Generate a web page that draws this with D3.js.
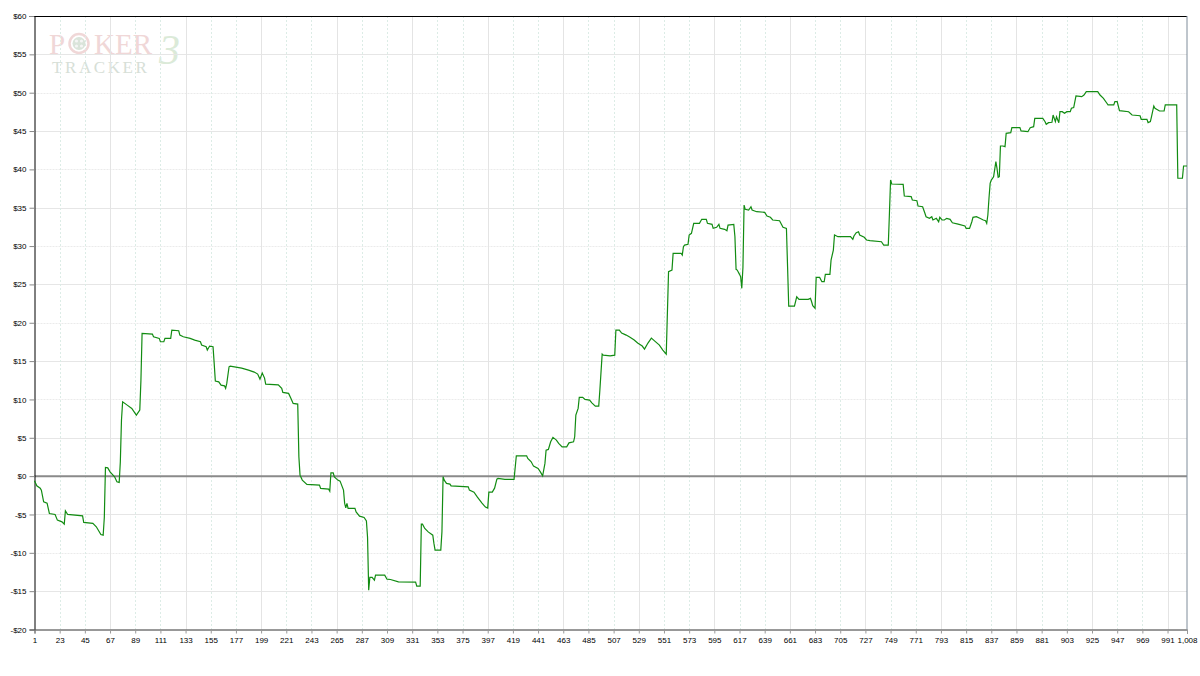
<!DOCTYPE html>
<html><head><meta charset="utf-8">
<script src="https://cdn.jsdelivr.net/npm/d3@7"></script>
<style>body{margin:0;background:#fff}svg{display:block}</style>
</head><body><svg id="c" width="1200" height="676"></svg>
<script>
const hands=[1,3,6,7,9,12,14,19,21,25,27,28,30,43,44,52,55,59,61,62,63,65,67,71,73,75,76,77,78,82,86,90,93,94,95,104,105,110,111,114,115,120,121,127,128,131,137,141,146,147,151,152,154,157,158,159,162,164,167,168,169,171,172,177,182,188,193,196,198,200,202,203,214,217,218,223,225,227,231,232,233,235,239,250,251,258,259,260,262,263,266,268,271,272,273,274,275,281,282,285,289,291,292,293,294,296,298,299,307,309,312,319,334,335,338,339,340,342,345,349,350,351,356,357,358,359,361,364,365,380,381,385,388,392,395,397,398,401,403,405,406,412,420,422,431,432,435,437,441,443,445,447,448,450,452,454,457,459,462,466,468,472,473,474,476,477,480,482,486,488,491,494,495,497,498,504,508,509,512,514,518,521,525,528,532,534,537,540,543,547,550,553,555,558,559,566,567,568,569,572,573,575,577,582,584,588,589,593,594,597,599,600,604,606,607,612,613,614,615,617,618,619,620,621,622,625,627,628,632,639,641,644,646,652,655,658,659,660,665,667,669,677,679,680,681,683,684,687,689,691,692,696,697,699,700,703,714,716,717,719,721,722,726,728,731,741,743,747,748,749,750,760,761,767,768,772,773,777,779,780,783,785,786,789,791,792,794,796,798,801,803,808,814,815,818,820,821,824,827,830,832,833,834,835,836,837,839,841,842,843,844,845,847,849,850,854,855,862,863,869,871,874,875,882,884,885,887,890,891,893,894,896,897,899,901,903,906,907,909,911,916,918,920,930,932,935,938,939,944,945,947,949,957,960,967,968,973,974,976,977,979,980,984,988,989,999,1000,1004,1005,1008];
const values=[-0.61,-1.27,-1.57,-1.83,-3.35,-3.52,-4.87,-5.00,-5.74,-5.96,-6.26,-4.53,-5.00,-5.18,-6.04,-6.17,-6.61,-7.61,-7.70,-5.39,1.13,1.08,0.56,-0.09,-0.74,-0.82,1.87,7.31,9.69,9.26,8.83,7.96,8.61,12.52,18.62,18.52,18.17,17.96,17.52,17.52,17.96,17.96,19.05,18.96,18.39,18.17,17.96,17.74,17.52,17.09,16.87,16.44,16.96,16.87,14.70,12.39,12.30,11.87,11.78,11.44,12.09,14.26,14.35,14.22,14.09,13.83,13.57,13.31,12.65,13.44,12.78,12.00,11.91,11.44,10.92,10.79,10.14,9.48,9.39,2.52,0.13,-0.52,-1.08,-1.17,-1.60,-1.70,-1.96,0.43,0.43,-0.09,-0.52,-0.65,-1.83,-3.56,-4.14,-3.56,-4.21,-4.21,-4.66,-5.22,-5.39,-5.83,-7.96,-14.87,-13.21,-13.21,-13.57,-12.91,-12.91,-13.44,-13.48,-13.79,-13.83,-14.35,-14.35,-6.26,-6.26,-6.82,-7.27,-7.70,-8.78,-9.65,-9.65,-7.27,-0.09,-0.52,-0.95,-1.04,-1.27,-1.40,-1.83,-2.09,-2.74,-3.52,-4.04,-4.17,-2.09,-2.09,-1.57,-0.39,-0.30,-0.43,-0.43,2.65,2.65,2.31,1.87,1.30,1.00,0.56,0.04,1.66,3.39,3.48,4.47,5.05,4.70,4.27,3.82,3.82,4.34,4.47,5.13,7.96,8.83,10.27,10.27,10.01,9.91,9.56,9.13,9.13,11.22,15.91,15.78,15.69,15.78,19.05,19.05,18.65,18.39,18.13,17.74,17.35,16.96,16.57,17.35,18.00,17.61,17.09,16.44,15.91,26.65,26.87,29.05,29.05,28.83,29.91,30.13,30.23,31.44,31.66,32.96,32.96,33.49,33.49,32.96,32.83,32.31,32.44,32.83,32.31,32.18,32.00,32.74,32.83,31.22,26.96,26.87,26.31,26.00,24.49,27.22,35.35,34.79,34.70,35.13,34.70,34.48,34.40,33.92,33.75,33.40,33.30,32.44,32.31,27.30,22.18,22.18,23.39,23.05,23.05,23.18,22.74,22.22,21.88,25.92,25.92,25.35,25.35,26.31,26.31,28.18,29.48,31.44,31.22,31.22,30.88,31.31,31.74,31.87,31.44,31.14,30.79,30.70,30.56,30.13,30.13,34.27,38.61,38.09,38.05,36.53,36.44,36.00,35.91,35.22,35.13,34.27,33.83,33.62,33.83,33.40,33.62,33.17,33.75,33.40,33.40,33.62,33.49,33.04,32.87,32.61,32.31,32.31,33.17,33.75,33.83,33.62,33.40,33.30,32.96,34.05,36.27,38.18,38.61,39.04,41.00,40.14,38.96,39.04,43.05,43.05,42.96,44.70,44.78,45.44,45.44,45.01,44.91,45.44,45.57,46.66,46.66,46.22,45.88,46.09,46.14,47.09,46.22,46.87,46.09,47.52,47.52,47.31,47.52,47.52,47.97,48.05,49.57,49.48,49.70,50.13,50.13,49.70,49.27,48.62,48.40,48.40,48.83,48.83,47.65,47.52,47.09,47.00,46.53,46.53,46.09,46.22,46.87,48.27,47.97,47.61,47.61,48.40,48.40,38.84,38.84,40.44,40.44];
const xTickValues=[1,23,45,67,89,111,133,155,177,199,221,243,265,287,309,331,353,375,397,419,441,463,485,507,529,551,573,595,617,639,661,683,705,727,749,771,793,815,837,859,881,903,925,947,969,991,1008];
const xTickLabels=["1","23","45","67","89","111","133","155","177","199","221","243","265","287","309","331","353","375","397","419","441","463","485","507","529","551","573","595","617","639","661","683","705","727","749","771","793","815","837","859","881","903","925","947","969","991","1,008"];
const yTickValues=[-20,-15,-10,-5,0,5,10,15,20,25,30,35,40,45,50,55,60];
const yTickLabels=["-$20","-$15","-$10","-$5","$0","$5","$10","$15","$20","$25","$30","$35","$40","$45","$50","$55","$60"];

const svg=d3.select("#c");
const L=34.5,R=1187,T=16,B=629.5;
const x=d3.scaleLinear().domain([1,1008]).range([L,R]);
const y=d3.scaleLinear().domain([-20,60]).range([B,T]);
const font="'Liberation Sans', Arial, sans-serif";

// logo watermark
const logo=svg.append("g").attr("opacity",0.9);
logo.append("text").attr("x",49).attr("y",54).attr("font-family","'Liberation Serif', serif").attr("font-size",29).attr("fill","#efd3d3").text("P");
logo.append("circle").attr("cx",79).attr("cy",43.5).attr("r",9.5).attr("fill","none").attr("stroke","#efd3d3").attr("stroke-width",2.5);
logo.append("circle").attr("cx",79).attr("cy",43.5).attr("r",6.5).attr("fill","#d6e2d6");
[[-2.5,-2.5],[2.5,-2.5],[-2.5,2.5],[2.5,2.5]].forEach(p=>logo.append("circle").attr("cx",79+p[0]).attr("cy",43.5+p[1]).attr("r",1.6).attr("fill","#f4f4f4"));
logo.append("text").attr("x",94).attr("y",54).attr("font-family","'Liberation Serif', serif").attr("font-size",29).attr("fill","#efd3d3").text("KER");
logo.append("text").attr("x",52).attr("y",73).attr("font-family","'Liberation Serif', serif").attr("font-size",17).attr("letter-spacing",2.6).attr("fill","#d3dcd3").text("TRACKER");
logo.append("text").attr("x",159).attr("y",64).attr("font-family","'Liberation Serif', serif").attr("font-style","italic").attr("font-size",42).attr("fill","#d8e8d4").text("3");

// grid
const g=svg.append("g");
yTickValues.forEach((v,i)=>{
  if(v===60||v===-20||v===0) return;
  g.append("line").attr("x1",L).attr("x2",R).attr("y1",Math.round(y(v))+0.5).attr("y2",Math.round(y(v))+0.5)
   .attr("stroke", i%2? "#e6e6e6":"#ebebeb").attr("stroke-dasharray", i%2? null:"2,1");
});
xTickValues.forEach((v,i)=>{
  if(i===0||i===xTickValues.length-1) return;
  const xx=Math.round(x(v))+0.5;
  g.append("line").attr("x1",xx).attr("x2",xx).attr("y1",T).attr("y2",B)
   .attr("stroke", i%3===0? "#e4e4e4":"#dcece6").attr("stroke-dasharray", i%3===0? null:"2,2");
});

// zero line
svg.append("line").attr("x1",L).attr("x2",R).attr("y1",y(0)).attr("y2",y(0)).attr("stroke","#8a8a8a").attr("stroke-width",2);

// axes
const ya=svg.append("g").attr("transform",`translate(${L},0)`)
  .call(d3.axisLeft(y).tickValues(yTickValues).tickSize(5).tickPadding(3).tickFormat((d,i)=>yTickLabels[i]));
ya.select(".domain").attr("stroke","#000");
ya.selectAll(".tick line").attr("stroke","#888");
ya.selectAll("text").attr("font-family",font).attr("font-size",8).attr("fill","#000");

const xa=svg.append("g").attr("transform",`translate(0,${B})`)
  .call(d3.axisBottom(x).tickValues(xTickValues).tickSize(4).tickPadding(4).tickFormat((d,i)=>xTickLabels[i]));
xa.select(".domain").attr("stroke","#333");
xa.selectAll(".tick line").attr("stroke","#999");
xa.selectAll("text").attr("font-family",font).attr("font-size",8).attr("fill","#000");

// frame top and right
svg.append("line").attr("x1",L).attr("x2",R).attr("y1",T+0.5).attr("y2",T+0.5).attr("stroke","#000");
svg.append("line").attr("x1",R).attr("x2",R).attr("y1",T).attr("y2",B).attr("stroke","#7f8c9a");

// profit line
const pts=hands.map((h,i)=>[h,values[i]]);
svg.append("path").datum(pts)
  .attr("d",d3.line().x(d=>x(d[0])).y(d=>y(d[1])))
  .attr("fill","none").attr("stroke","#128c12").attr("stroke-width",1.2).attr("stroke-linejoin","miter");
</script></body></html>
